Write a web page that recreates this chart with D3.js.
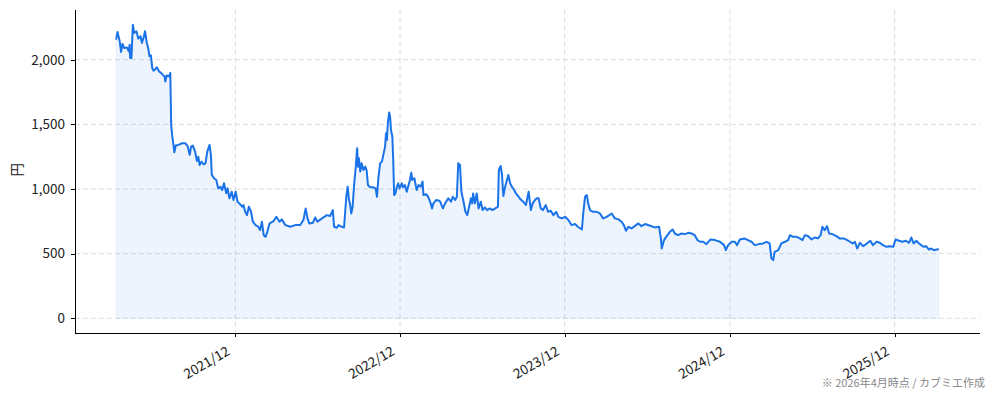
<!DOCTYPE html>
<meta charset="utf-8">
<style>
  body { margin: 0; background: #fff; }
  svg { display: block; }
  .axis text { font-family: "Noto Sans CJK JP", "Noto Sans", sans-serif; font-size: 13.5px; fill: #222; }
  .axis path, .axis line { stroke: #000; stroke-width: 1; shape-rendering: crispEdges; }
  .grid line { stroke: #dcdcdc; stroke-width: 1; stroke-dasharray: 5,3; }
</style>
<body>
<script src="https://d3js.org/d3.v7.min.js"></script>
<script>

// closing prices, [MM-DD, yen] per year
var y2021 = [["03-12",2155],["03-15",2215],["03-20",2142],["03-23",2060],["03-26",2122],["03-30",2090],["04-05",2095],["04-09",2064],["04-11",2116],["04-12",2013],["04-15",2013],["04-18",2271],["04-21",2207],["04-26",2220],["04-30",2163],["05-05",2181],["05-08",2130],["05-12",2173],["05-15",2220],["05-19",2130],["05-22",2090],["05-25",2026],["05-28",2034],["05-31",1935],["06-03",1915],["06-06",1925],["06-10",1941],["06-15",1910],["06-22",1889],["06-27",1871],["06-29",1832],["07-02",1878],["07-07",1871],["07-10",1897],["07-12",1496],["07-14",1419],["07-17",1341],["07-19",1284],["07-22",1336],["07-28",1341],["08-05",1354],["08-12",1354],["08-17",1336],["08-22",1264],["08-25",1328],["08-29",1336],["09-03",1290],["09-07",1217],["09-10",1250],["09-13",1186],["09-17",1212],["09-22",1191],["09-26",1199],["09-30",1290],["10-05",1341],["10-08",1264],["10-10",1109],["10-15",1083],["10-20",1070],["10-24",1005],["10-29",1018],["11-02",992],["11-06",1044],["11-11",967],["11-14",1005],["11-18",928],["11-23",979],["11-27",915],["12-02",979],["12-06",902],["12-10",889],["12-16",863],["12-19",876],["12-23",824],["12-27",798],["12-31",863]];
var y2022 = [["01-05",824],["01-09",747],["01-15",721],["01-21",708],["01-25",682],["01-29",747],["02-02",643],["02-06",630],["02-10",669],["02-15",734],["02-24",752],["03-02",785],["03-09",747],["03-14",765],["03-22",721],["04-02",708],["04-13",721],["04-24",721],["05-01",760],["05-06",850],["05-10",773],["05-14",734],["05-22",739],["05-27",780],["06-01",747],["06-11",773],["06-22",798],["06-29",791],["07-05",837],["07-08",708],["07-14",700],["07-18",721],["07-25",708],["07-30",703],["08-04",940],["08-07",1018],["08-10",915],["08-12",889],["08-15",811],["08-18",863],["08-21",1018],["08-25",1173],["08-28",1315],["08-30",1173],["09-01",1238],["09-04",1135],["09-07",1199],["09-11",1147],["09-15",1173],["09-18",1147],["09-21",1031],["09-26",1013],["10-03",1013],["10-08",1005],["10-11",940],["10-14",1083],["10-18",1199],["10-22",1212],["10-25",1264],["10-29",1328],["10-31",1432],["11-02",1380],["11-04",1509],["11-07",1592],["11-09",1561],["11-11",1457],["11-14",1406],["11-16",1225],["11-18",953],["11-21",966],["11-24",1018],["11-27",1044],["11-30",1005],["12-05",1044],["12-08",1013],["12-12",1031],["12-16",979],["12-20",1031],["12-23",1070],["12-26",1126],["12-28",1070]];
var y2023 = [["01-02",1083],["01-04",1044],["01-07",992],["01-11",1031],["01-16",1018],["01-20",1057],["01-22",953],["01-28",961],["02-02",935],["02-07",889],["02-10",850],["02-13",889],["02-19",915],["02-26",909],["02-28",902],["03-06",850],["03-11",889],["03-18",928],["03-24",902],["03-28",940],["04-02",915],["04-06",940],["04-09",1199],["04-13",1186],["04-16",979],["04-20",915],["04-25",824],["04-29",798],["05-04",876],["05-07",928],["05-10",889],["05-12",966],["05-16",889],["05-20",966],["05-24",850],["05-29",902],["06-02",837],["06-07",858],["06-12",837],["06-18",850],["06-24",837],["06-30",850],["07-06",863],["07-08",1147],["07-12",1178],["07-15",1109],["07-18",946],["07-22",1018],["07-25",1057],["07-29",1109],["08-02",1044],["08-06",1018],["08-11",992],["08-15",966],["08-21",940],["08-25",920],["08-31",902],["09-06",876],["09-12",979],["09-17",837],["09-21",889],["09-26",915],["09-30",928],["10-04",928],["10-09",850],["10-14",837],["10-20",876],["10-25",824],["10-31",832],["11-06",798],["11-12",824],["11-17",785],["11-24",773],["12-02",785],["12-09",760],["12-16",721],["12-24",729],["12-30",708]];
var y2024 = [["01-08",687],["01-11",811],["01-15",940],["01-19",953],["01-22",889],["01-26",837],["02-02",824],["02-10",824],["02-17",811],["02-24",773],["03-03",785],["03-14",811],["03-21",773],["03-29",765],["04-05",747],["04-10",721],["04-15",677],["04-20",708],["04-27",695],["05-04",713],["05-12",734],["05-19",713],["05-27",729],["06-07",716],["06-18",703],["06-27",708],["07-01",618],["07-03",540],["07-08",605],["07-14",636],["07-21",669],["07-27",687],["08-01",656],["08-08",643],["08-16",656],["08-23",651],["08-31",661],["09-07",656],["09-14",643],["09-20",605],["09-26",592],["10-03",592],["10-10",574],["10-19",610],["10-29",605],["11-09",592],["11-18",566],["11-22",527],["11-27",566],["12-05",592],["12-12",592],["12-17",566],["12-23",610]];
var y2025 = [["01-02",618],["01-10",605],["01-18",592],["01-25",566],["02-04",574],["02-13",579],["02-20",592],["02-27",579],["03-03",463],["03-07",450],["03-10",514],["03-18",527],["03-25",579],["04-02",592],["04-09",605],["04-13",643],["04-20",630],["04-28",630],["05-05",618],["05-11",605],["05-16",643],["05-23",636],["05-31",610],["06-07",625],["06-14",618],["06-20",643],["06-24",708],["06-29",682],["07-04",713],["07-09",656],["07-16",651],["07-25",636],["08-01",618],["08-10",618],["08-18",605],["08-24",592],["08-30",579],["09-04",592],["09-09",540],["09-15",584],["09-22",558],["09-29",574],["10-08",600],["10-14",566],["10-22",592],["10-29",584],["11-05",566],["11-13",553],["11-20",558],["11-28",553],["12-03",610],["12-11",600],["12-18",592],["12-26",600]];
var y2026 = [["01-02",584],["01-07",625],["01-12",579],["01-18",600],["01-24",579],["01-29",566],["02-03",553],["02-09",558],["02-15",532],["02-20",540],["02-26",527],["03-04",532],["03-09",535]];

var yearTicks = ["2021-12-01", "2022-12-01", "2023-12-01", "2024-12-01", "2025-12-01"];
var priceTicks = [0, 500, 1000, 1500, 2000];
var yLabel = "円";
var footNote = "※ 2026年4月時点 / カブミエ作成";

var W = 994, H = 401;
var margin = { top: 10, right: 14, bottom: 68, left: 75 };

var parse = d3.timeParse("%Y-%m-%d");
var data = [];
[[2021, y2021], [2022, y2022], [2023, y2023], [2024, y2024], [2025, y2025], [2026, y2026]].forEach(function (yr) {
  yr[1].forEach(function (p) {
    data.push({ date: parse(yr[0] + "-" + p[0]), close: p[1] });
  });
});

var svg = d3.select("body").append("svg")
  .attr("width", W)
  .attr("height", H);

// 5% padding like matplotlib
var xExt = d3.extent(data, function (d) { return d.date; });
var span = xExt[1] - xExt[0];
var x = d3.scaleTime()
  .domain([new Date(+xExt[0] - span * 0.05), new Date(+xExt[1] + span * 0.05)])
  .range([margin.left, W - margin.right]);

var yMax = d3.max(data, function (d) { return d.close; });
var y = d3.scaleLinear()
  .domain([-yMax * 0.05, yMax * 1.05])
  .range([H - margin.bottom, margin.top]);

var tickDates = yearTicks.map(parse);

// grid
svg.append("g").attr("class", "grid")
  .selectAll("line").data(priceTicks).enter().append("line")
  .attr("x1", margin.left).attr("x2", W - margin.right)
  .attr("y1", function (d) { return y(d); }).attr("y2", function (d) { return y(d); });
svg.append("g").attr("class", "grid")
  .selectAll("line").data(tickDates).enter().append("line")
  .attr("y1", margin.top).attr("y2", H - margin.bottom)
  .attr("x1", function (d) { return x(d); }).attr("x2", function (d) { return x(d); });

// area + line
var area = d3.area()
  .x(function (d) { return x(d.date); })
  .y0(y(0))
  .y1(function (d) { return y(d.close); });
svg.append("path").datum(data)
  .attr("d", area)
  .attr("fill", "#1a73e8")
  .attr("fill-opacity", 0.08)
  .attr("stroke", "#1a73e8")
  .attr("stroke-opacity", 0.06)
  .attr("stroke-width", 1);

var line = d3.line()
  .x(function (d) { return x(d.date); })
  .y(function (d) { return y(d.close); });
svg.append("path").datum(data)
  .attr("d", line)
  .attr("fill", "none")
  .attr("stroke", "#1a73e8")
  .attr("stroke-width", 2)
  .attr("stroke-linejoin", "round");

// axes
svg.append("g").attr("class", "axis")
  .attr("transform", "translate(" + margin.left + ",0)")
  .call(d3.axisLeft(y).tickValues(priceTicks).tickFormat(d3.format(",")).tickSize(4).tickPadding(6).tickSizeOuter(0))
  .select(".domain").attr("d", "M0.5," + (H - margin.bottom) + "V" + margin.top);

svg.append("g").attr("class", "axis xaxis")
  .attr("transform", "translate(0," + (H - margin.bottom) + ")")
  .call(d3.axisBottom(x).tickValues(tickDates).tickFormat(d3.timeFormat("%Y/%m")).tickSize(4).tickSizeOuter(0))
  .selectAll("text")
  .attr("text-anchor", "end")
  .attr("y", 0)
  .attr("dy", 0)
  .attr("transform", "translate(-5,21) rotate(-30)");

svg.select(".xaxis .domain").attr("d", "M" + margin.left + ",0.5H" + (W - margin.right));

// y label
svg.append("text")
  .attr("transform", "translate(22," + y(1150) + ") rotate(-90)")
  .attr("text-anchor", "middle")
  .style("font-family", "'Noto Sans CJK JP', sans-serif")
  .style("font-size", "13.5px")
  .style("fill", "#222")
  .text(yLabel);

// footnote
svg.append("text")
  .attr("x", W - 9)
  .attr("y", H - 14)
  .attr("text-anchor", "end")
  .style("font-family", "'Noto Sans CJK JP', sans-serif")
  .style("font-size", "11px")
  .style("fill", "#888")
  .text(footNote);

</script>
</body>
